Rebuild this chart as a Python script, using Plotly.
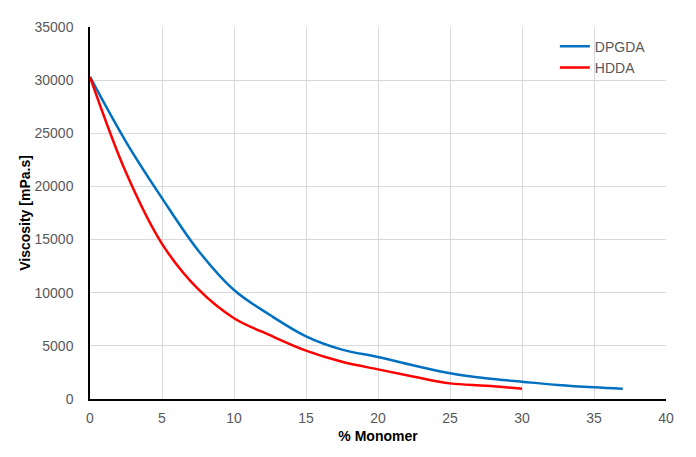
import plotly.graph_objects as go

x_dpgda = [0, 2.5, 5, 7.5, 10, 12.5, 15, 17.5, 20, 22.5, 25, 27.5, 30, 32.5, 35, 37]
y_dpgda = [30300, 24200, 18900, 14000, 10250, 7900, 5900, 4650, 3950, 3150, 2420, 1950, 1630, 1320, 1100, 970]

x_hdda = [0, 2.5, 5, 7.5, 10, 12.5, 15, 17.5, 20, 22.5, 25, 27.5, 30]
y_hdda = [30300, 21300, 14600, 10350, 7600, 6000, 4550, 3500, 2790, 2100, 1470, 1250, 970]

x_ticks = [0, 5, 10, 15, 20, 25, 30, 35, 40]
y_ticks = [0, 5000, 10000, 15000, 20000, 25000, 30000, 35000]

fig = go.Figure()
fig.add_trace(go.Scatter(x=x_dpgda, y=y_dpgda, name="DPGDA", mode="lines",
                         line=dict(color="#0070C0", width=2.5, shape="spline", smoothing=1.0)))
fig.add_trace(go.Scatter(x=x_hdda, y=y_hdda, name="HDDA", mode="lines",
                         line=dict(color="#FF0000", width=2.5, shape="spline", smoothing=1.0)))

font_tick = dict(family="Liberation Sans, Arial, sans-serif", size=14, color="#595959")
fig.update_layout(
    width=680, height=441,
    margin=dict(l=82, r=22, t=19, b=50, autoexpand=False),
    paper_bgcolor="white", plot_bgcolor="white",
    font=dict(family="Liberation Sans, Arial, sans-serif", size=14, color="#595959"),
    legend=dict(x=0.807, y=0.99, xanchor="left", yanchor="top",
                bgcolor="rgba(0,0,0,0)", font=dict(size=14, color="#595959"),
                tracegroupgap=0, itemwidth=30),
    showlegend=True,
)
fig.update_xaxes(
    range=[0, 40], tickvals=x_ticks, ticktext=[str(v) for v in x_ticks],
    showgrid=True, gridcolor="#D9D9D9", gridwidth=1,
    showline=True, linecolor="black", linewidth=1.5, zeroline=False,
    ticks="", tickfont=font_tick, ticklabelstandoff=5, automargin=False,
    title=dict(text="<b>% Monomer</b>", font=dict(size=14, color="black"), standoff=7),
)
fig.update_yaxes(
    range=[0, 35000], tickvals=y_ticks, ticktext=[str(v) for v in y_ticks],
    showgrid=True, gridcolor="#D9D9D9", gridwidth=1,
    showline=True, linecolor="black", linewidth=1.5, zeroline=False,
    ticks="", tickfont=font_tick, ticklabelstandoff=12, automargin=False,
    title=dict(text="<b>Viscosity [mPa.s]</b>", font=dict(size=14, color="black"), standoff=1),
)
fig.write_html("out.html")
